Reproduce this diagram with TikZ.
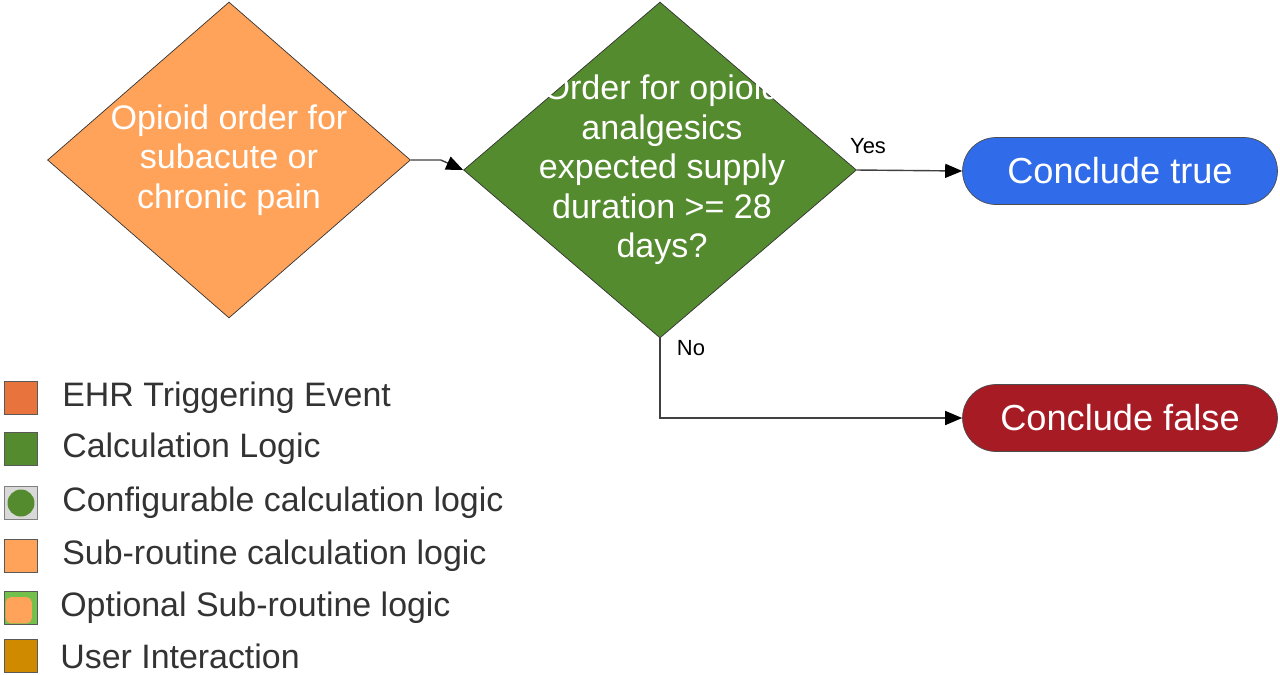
\documentclass[tikz,border=0pt]{standalone}
\usepackage{fontspec}
\setmainfont{Liberation Sans}
\usetikzlibrary{arrows.meta, shapes.geometric}

\definecolor{ehrorange}{HTML}{E9733C}
\definecolor{calcgreen}{HTML}{558B2F}
\definecolor{suborange}{HTML}{FFA35B}
\definecolor{optgreen}{HTML}{74C04C}
\definecolor{userochre}{HTML}{D08A00}
\definecolor{trueblue}{HTML}{306BEA}
\definecolor{falsered}{HTML}{A61B24}

\begin{document}
\begin{tikzpicture}[x=0.02cm, y=-0.02cm, every text node part/.style={align=center}]

\tikzstyle{dia}=[diamond, draw=black!80, inner sep=0pt]
\tikzstyle{wtext}=[text=white, font=\fontsize{19.4}{22.5}\selectfont]
\tikzstyle{term}=[draw=black!70, rounded corners=0.67cm, minimum width=6.3cm, minimum height=1.34cm, text=white, font=\fontsize{20.6}{24}\selectfont]
\tikzstyle{arr}=[draw=black!75, line width=0.8pt, -{Triangle[length=0.34cm, width=0.28cm, color=black]}]
\tikzstyle{key}=[draw=black!65, minimum size=0.66cm, inner sep=0pt]
\tikzstyle{keytext}=[anchor=west, inner sep=0pt, text=black!80, font=\fontsize{19.3}{22}\selectfont]
\tikzstyle{lbl}=[font=\fontsize{12.5}{14}\selectfont]

\useasboundingbox (0,0) rectangle (1280,674);

\node (op) [dia, fill=suborange, minimum width=7.26cm, minimum height=6.32cm] at (229,160) {};
\node (optext) [wtext] at (229,160) {Opioid order for\\subacute or\\chronic pain};

\node (dur) [dia, fill=calcgreen, minimum width=7.86cm, minimum height=6.72cm] at (660,170) {};
\node (durtext) [wtext] at (662,170) {Order for opioid\\analgesics\\expected supply\\duration >= 28\\days?};

\node (yes) [term, fill=trueblue] at (1120,171) {Conclude true};
\node (no) [term, fill=falsered] at (1120,418) {Conclude false};

\path [arr] (op.east) -- ++(30,0) -- (dur.west);
\path [arr] (dur.east) -- (yes.west);
\path [arr] (dur.south) |- (no.west);

\node (ylbl) [lbl] at (868,146) {Yes};
\node (nlbl) [lbl] at (691,348) {No};

% legend
\node (k1) [key, fill=ehrorange] at (21,398) {};
\node (t1) [keytext] at (62,398) {EHR Triggering Event};
\node (k2) [key, fill=calcgreen] at (21,449) {};
\node (t2) [keytext] at (62,449) {Calculation Logic};
\node (k3) [key, draw=black!50, fill=black!15] at (21,503) {};
\fill [calcgreen] (k3.center) circle (0.27cm);
\node (t3) [keytext] at (62,503) {Configurable calculation logic};
\node (k4) [key, fill=suborange] at (21,556) {};
\node (t4) [keytext] at (62,556) {Sub-routine calculation logic};
\node (k5) [key, fill=optgreen] at (21,608) {};
\fill [suborange, rounded corners=3pt] ([xshift=0.03cm, yshift=-0.12cm]k5.north west)
    rectangle ([xshift=-0.12cm, yshift=0.03cm]k5.south east);
\node (t5) [keytext] at (60,608) {Optional Sub-routine logic};
\node (k6) [key, fill=userochre] at (21,656) {};
\node (t6) [keytext] at (60,656) {User Interaction};

\end{tikzpicture}
\end{document}
